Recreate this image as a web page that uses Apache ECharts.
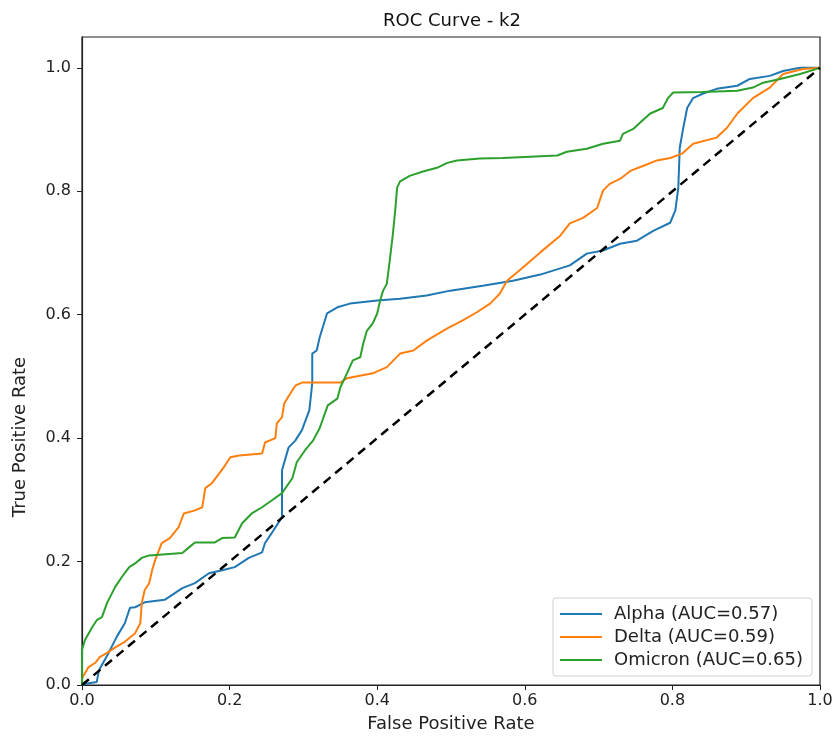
<!DOCTYPE html>
<html>
<head>
<meta charset="utf-8">
<script src="https://cdn.jsdelivr.net/npm/echarts@6/dist/echarts.min.js"></script>
<style>
html,body{margin:0;padding:0;background:#fff;}
#chart{width:837px;height:742px;}
</style>
</head>
<body>
<div id="chart"></div>
<script>
const titleText = 'ROC Curve - k2';
const xAxisTitle = 'False Positive Rate';
const yAxisTitle = 'True Positive Rate';
const xTicks = [0.0, 0.2, 0.4, 0.6, 0.8, 1.0];
const yTicks = [0.0, 0.2, 0.4, 0.6, 0.8, 1.0];
const seriesNames = ['Alpha (AUC=0.57)', 'Delta (AUC=0.59)', 'Omicron (AUC=0.65)'];

const alphaFpr = [0,0.009,0.020,0.023,0.036,0.047,0.058,0.065,0.072,0.085,0.112,0.136,0.153,0.172,0.190,0.207,0.226,0.244,0.248,0.257,0.271,0.271,0.280,0.289,0.298,0.308,0.312,0.312,0.318,0.322,0.332,0.346,0.363,0.400,0.431,0.467,0.499,0.543,0.584,0.621,0.661,0.684,0.706,0.729,0.752,0.774,0.797,0.804,0.808,0.810,0.814,0.820,0.828,0.841,0.860,0.888,0.905,0.932,0.950,0.973,1];
const alphaTpr = [0,0.003,0.005,0.024,0.052,0.078,0.100,0.125,0.126,0.134,0.138,0.157,0.165,0.181,0.186,0.191,0.206,0.215,0.230,0.246,0.272,0.348,0.385,0.396,0.413,0.445,0.489,0.537,0.542,0.563,0.602,0.612,0.618,0.623,0.626,0.631,0.639,0.647,0.655,0.665,0.680,0.699,0.704,0.715,0.720,0.736,0.749,0.769,0.806,0.871,0.898,0.935,0.951,0.958,0.966,0.971,0.982,0.987,0.995,1.0,1];

const deltaFpr = [0,0,0.009,0.018,0.024,0.034,0.045,0.058,0.072,0.079,0.081,0.085,0.091,0.095,0.099,0.108,0.119,0.131,0.138,0.153,0.163,0.167,0.176,0.186,0.194,0.201,0.213,0.244,0.248,0.262,0.264,0.271,0.274,0.282,0.289,0.298,0.350,0.359,0.394,0.413,0.431,0.449,0.467,0.495,0.516,0.535,0.553,0.566,0.576,0.593,0.621,0.648,0.661,0.679,0.698,0.706,0.715,0.729,0.743,0.760,0.779,0.797,0.813,0.828,0.860,0.874,0.888,0.909,0.932,0.950,0.977,1];
const deltaTpr = [0,0.011,0.029,0.036,0.045,0.052,0.061,0.070,0.084,0.100,0.133,0.154,0.165,0.186,0.202,0.230,0.238,0.256,0.278,0.283,0.288,0.319,0.327,0.343,0.356,0.369,0.372,0.375,0.393,0.400,0.424,0.434,0.456,0.472,0.485,0.490,0.490,0.497,0.505,0.515,0.537,0.542,0.558,0.578,0.591,0.604,0.618,0.634,0.655,0.672,0.701,0.728,0.748,0.757,0.773,0.801,0.812,0.820,0.833,0.841,0.850,0.854,0.861,0.877,0.887,0.903,0.926,0.951,0.968,0.990,0.998,1];

const omicronFpr = [0,0,0.004,0.014,0.020,0.027,0.034,0.045,0.054,0.064,0.072,0.081,0.091,0.136,0.145,0.153,0.180,0.190,0.207,0.217,0.230,0.244,0.257,0.271,0.285,0.291,0.302,0.313,0.322,0.333,0.346,0.350,0.359,0.367,0.377,0.381,0.386,0.394,0.400,0.404,0.408,0.413,0.417,0.421,0.424,0.427,0.431,0.444,0.462,0.481,0.495,0.508,0.539,0.570,0.607,0.644,0.657,0.684,0.706,0.729,0.733,0.747,0.756,0.770,0.787,0.794,0.801,0.841,0.888,0.909,0.923,0.946,0.973,1];
const omicronTpr = [0,0.057,0.073,0.094,0.105,0.110,0.133,0.159,0.175,0.191,0.197,0.206,0.210,0.214,0.223,0.231,0.231,0.238,0.239,0.262,0.278,0.288,0.299,0.311,0.335,0.361,0.380,0.396,0.416,0.453,0.464,0.482,0.505,0.526,0.531,0.553,0.574,0.586,0.602,0.623,0.639,0.650,0.688,0.728,0.764,0.806,0.816,0.825,0.832,0.838,0.846,0.850,0.853,0.854,0.856,0.858,0.864,0.869,0.877,0.882,0.893,0.901,0.911,0.926,0.935,0.951,0.960,0.961,0.963,0.968,0.976,0.982,0.990,1];

const chanceX = [0, 1];
const chanceY = [0, 1];

const colors = ['#1f77b4', '#ff7f0e', '#2ca02c'];
const font = 'DejaVu Sans';

function pairs(xs, ys) { return xs.map((x, i) => [x, ys[i]]); }

const chart = echarts.init(document.getElementById('chart'), null, {renderer: 'canvas'});
const lineSeries = [
  [alphaFpr, alphaTpr], [deltaFpr, deltaTpr], [omicronFpr, omicronTpr]
].map((d, i) => ({
  name: seriesNames[i],
  type: 'line',
  data: pairs(d[0], d[1]),
  symbol: 'none',
  showSymbol: false,
  lineStyle: {color: colors[i], width: 2},
  itemStyle: {color: colors[i]},
  z: 3,
  animation: false
}));

chart.setOption({
  animation: false,
  backgroundColor: '#fff',
  title: {
    text: titleText,
    left: 447, top: 7, textAlign: 'center',
    textStyle: {fontFamily: font, fontSize: 18, fontWeight: 'normal', color: '#111'}
  },
  graphic: [{
    type: 'text',
    x: 20, y: 437,
    rotation: Math.PI / 2,
    style: {
      text: yAxisTitle,
      fontFamily: font, fontSize: 18, fill: '#222',
      align: 'center', verticalAlign: 'middle'
    }
  }],
  grid: {left: 82, right: 17, top: 37, bottom: 57, show: true, borderColor: '#222', borderWidth: 1.2, backgroundColor: 'transparent'},
  legend: {
    data: seriesNames,
    orient: 'vertical',
    right: 25, bottom: 66,
    icon: 'rect',
    itemWidth: 42, itemHeight: 2, itemGap: 5,
    padding: [7, 9, 7, 7],
    backgroundColor: 'rgba(255,255,255,0.9)',
    borderColor: '#d0d0d0', borderWidth: 1, borderRadius: 3,
    textStyle: {fontFamily: font, fontSize: 18, color: '#222', padding: [0, 0, 0, 7]}
  },
  xAxis: {
    type: 'value', min: 0, max: 1, interval: 0.2,
    name: xAxisTitle, nameLocation: 'middle', nameGap: 30,
    nameTextStyle: {fontFamily: font, fontSize: 18, color: '#222'},
    axisLine: {show: true, lineStyle: {color: '#222', width: 1.2}},
    axisTick: {show: true, inside: false, length: 5, lineStyle: {color: '#222'}},
    axisLabel: {fontFamily: font, fontSize: 16, color: '#222', margin: 8,
      formatter: v => xTicks.some(t => Math.abs(t - v) < 1e-6) ? v.toFixed(1) : ''},
    splitLine: {show: false}
  },
  yAxis: {
    type: 'value', min: 0, max: 1.05, interval: 0.2,
    axisLine: {show: true, lineStyle: {color: '#222', width: 1.2}},
    axisTick: {show: true, inside: false, length: 5, lineStyle: {color: '#222'}},
    axisLabel: {fontFamily: font, fontSize: 16, color: '#222', margin: 11, showMaxLabel: false,
      formatter: v => yTicks.some(t => Math.abs(t - v) < 1e-6) ? v.toFixed(1) : ''},
    splitLine: {show: false}
  },
  series: lineSeries.concat([{
    name: 'chance',
    type: 'line',
    data: pairs(chanceX, chanceY),
    symbol: 'none',
    lineStyle: {color: '#000', width: 2.5, type: [9, 6]},
    z: 4,
    animation: false
  }])
});
</script>
</body>
</html>
